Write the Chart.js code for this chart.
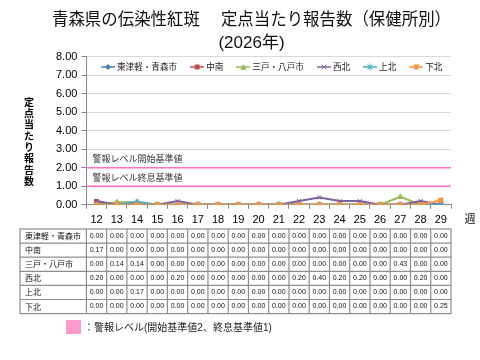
<!DOCTYPE html>
<html>
<head>
<meta charset="utf-8">
<script src="https://cdn.jsdelivr.net/npm/chart.js@4"></script>
<style>
html, body { margin: 0; padding: 0; background: #fff; }
</style>
</head>
<body>
<canvas id="myChart" width="480" height="360"></canvas>
<script>
const weeks = ['12', '13', '14', '15', '16', '17', '18', '19', '20', '21', '22', '23', '24', '25', '26', '27', '28', '29'];

const higashiTsugaru = [0, 0, 0, 0, 0, 0, 0, 0, 0, 0, 0, 0, 0, 0, 0, 0, 0, 0];
const chunan = [0.17, 0, 0, 0, 0, 0, 0, 0, 0, 0, 0, 0, 0, 0, 0, 0, 0, 0];
const sannohe = [0, 0.14, 0.14, 0, 0, 0, 0, 0, 0, 0, 0, 0, 0, 0, 0, 0.43, 0, 0];
const seihoku = [0.20, 0, 0, 0, 0.20, 0, 0, 0, 0, 0, 0.20, 0.40, 0.20, 0.20, 0, 0, 0.20, 0];
const kamikita = [0, 0, 0.17, 0, 0, 0, 0, 0, 0, 0, 0, 0, 0, 0, 0, 0, 0, 0];
const shimokita = [0, 0, 0, 0, 0, 0, 0, 0, 0, 0, 0, 0, 0, 0, 0, 0, 0, 0.25];

const seriesNames = ['東津軽・青森市', '中南', '三戸・八戸市', '西北', '上北', '下北'];
const seriesValues = [higashiTsugaru, chunan, sannohe, seihoku, kamikita, shimokita];
const seriesColors = ['#4A7EBB', '#BE4B48', '#98B954', '#7D60A0', '#46AAC5', '#F79646'];
const seriesMarkers = ['rectRot', 'rect', 'triangle', 'crossRot', 'star', 'rect'];

const alertStart = 2;   // 警報レベル開始基準値
const alertEnd = 1;     // 警報レベル終息基準値
const yMax = 8;

const FONT = "'Liberation Sans', 'Noto Sans CJK JP', sans-serif";
const JFONT = "'Noto Sans CJK JP', sans-serif";
const PINK = '#FF6EC7';

// little line+marker pictures for the legend, like excel draws them
function legendIcon(color, marker) {
  const c = document.createElement('canvas');
  c.width = 14;
  c.height = 8;
  const g = c.getContext('2d');
  g.strokeStyle = color;
  g.fillStyle = color;
  g.lineWidth = 1.5;
  g.beginPath();
  g.moveTo(0, 4);
  g.lineTo(14, 4);
  g.stroke();
  g.lineWidth = 1;
  g.beginPath();
  if (marker === 'rect') {
    g.fillRect(4.5, 1.5, 5, 5);
  } else if (marker === 'rectRot') {
    g.moveTo(7, 1); g.lineTo(10, 4); g.lineTo(7, 7); g.lineTo(4, 4); g.closePath(); g.fill();
  } else if (marker === 'triangle') {
    g.moveTo(7, 1); g.lineTo(10, 7); g.lineTo(4, 7); g.closePath(); g.fill();
  } else if (marker === 'crossRot') {
    g.moveTo(4.5, 1.5); g.lineTo(9.5, 6.5); g.moveTo(9.5, 1.5); g.lineTo(4.5, 6.5); g.stroke();
  } else {
    g.moveTo(4.5, 1.5); g.lineTo(9.5, 6.5); g.moveTo(9.5, 1.5); g.lineTo(4.5, 6.5);
    g.moveTo(7, 0.5); g.lineTo(7, 7.5); g.stroke();
  }
  return c;
}
const legendIcons = seriesColors.map((c, i) => legendIcon(c, seriesMarkers[i]));

const datasets = seriesNames.map((name, i) => ({
  label: name,
  data: seriesValues[i],
  borderColor: seriesColors[i],
  backgroundColor: seriesColors[i],
  borderWidth: 2,
  pointStyle: seriesMarkers[i],
  pointRadius: 3,
  pointBorderWidth: 1,
  fill: false,
  tension: 0,
  order: seriesNames.length - i
}));

const extras = {
  id: 'extras',
  beforeDatasetsDraw(chart) {
    const ctx = chart.ctx;
    const a = chart.chartArea;
    const y = chart.scales.y;
    ctx.save();
    ctx.strokeStyle = PINK;
    ctx.lineWidth = 1.5;
    [alertStart, alertEnd].forEach(v => {
      const py = y.getPixelForValue(v);
      ctx.beginPath();
      ctx.moveTo(a.left, py);
      ctx.lineTo(a.right, py);
      ctx.stroke();
    });
    ctx.fillStyle = '#333';
    ctx.font = '9px ' + JFONT;
    ctx.textBaseline = 'middle';
    ctx.fillText('警報レベル開始基準値', a.left + 6, y.getPixelForValue(alertStart) - 9);
    ctx.fillText('警報レベル終息基準値', a.left + 6, y.getPixelForValue(alertEnd) - 9);
    ctx.restore();
  },
  afterDraw(chart) {
    const ctx = chart.ctx;
    const a = chart.chartArea;
    const x = chart.scales.x;
    ctx.save();

    // legend inside the plot, one row
    ctx.font = '8.6px ' + JFONT;
    ctx.textBaseline = 'middle';
    ctx.textAlign = 'left';
    const gap = 13;
    const widths = seriesNames.map(n => 16 + ctx.measureText(n).width);
    const total = widths.reduce((s, w) => s + w, 0) + gap * (seriesNames.length - 1);
    let lx = (a.left + a.right) / 2 + 3 - total / 2;
    const ly = a.top + 10;
    ctx.fillStyle = '#222';
    seriesNames.forEach((n, i) => {
      ctx.drawImage(legendIcons[i], lx, ly - 4);
      ctx.fillText(n, lx + 16, ly);
      lx += widths[i] + gap;
    });

    // y axis title, upright characters stacked
    ctx.fillStyle = '#000';
    ctx.font = 'bold 10px ' + JFONT;
    ctx.textAlign = 'center';
    const yTitle = '定点当たり報告数';
    for (let k = 0; k < yTitle.length; k++) {
      ctx.fillText(yTitle[k], 29, 102 + k * 11.3);
    }

    // 週
    ctx.font = '11px ' + JFONT;
    ctx.fillText('週', a.right + 19, a.bottom + 14);

    // data table under the chart
    const cw = (a.right - a.left) / weeks.length;
    const top = 229;
    const rh = 14.1;
    const left = 20;
    const right = a.right;
    const bottom = top + rh * seriesNames.length;
    ctx.strokeStyle = '#8E8E8E';
    ctx.lineWidth = 1.2;
    ctx.strokeRect(left, top, right - left, bottom - top);
    ctx.beginPath();
    for (let r = 1; r < seriesNames.length; r++) {
      ctx.moveTo(left, top + r * rh);
      ctx.lineTo(right, top + r * rh);
    }
    for (let c = 0; c < weeks.length; c++) {
      const cx = x.getPixelForValue(c) - cw / 2;
      ctx.moveTo(cx, top);
      ctx.lineTo(cx, bottom);
    }
    ctx.stroke();

    ctx.fillStyle = '#111';
    seriesNames.forEach((name, r) => {
      const cy = top + r * rh + rh / 2;
      ctx.textAlign = 'left';
      ctx.font = '8px ' + JFONT;
      ctx.fillText(name, left + 5, cy);
      ctx.textAlign = 'center';
      ctx.font = '7px ' + FONT;
      seriesValues[r].forEach((v, c) => {
        ctx.fillText(v.toFixed(2), x.getPixelForValue(c), cy);
      });
    });

    // note at the bottom
    ctx.fillStyle = '#FF99CC';
    ctx.fillRect(66, 320, 15, 14);
    ctx.fillStyle = '#222';
    ctx.textAlign = 'left';
    ctx.font = '10px ' + FONT;
    ctx.fillText('：警報レベル(開始基準値' + alertStart + '、終息基準値' + alertEnd + ')', 84, 328);
    ctx.restore();
  }
};

const config = {
  type: 'line',
  data: {
    labels: weeks,
    datasets: datasets
  },
  options: {
    responsive: false,
    animation: false,
    layout: {
      padding: { left: 52, right: 29, top: 0, bottom: 128 }
    },
    plugins: {
      title: {
        display: true,
        text: ['青森県の伝染性紅斑　 定点当たり報告数（保健所別）', '(2026年)'],
        color: '#111',
        font: { family: FONT, size: 17, weight: 'normal', lineHeight: 1.35 },
        padding: { top: 9, bottom: 2 }
      },
      legend: { display: false },
      tooltip: { enabled: false }
    },
    scales: {
      x: {
        offset: true,
        grid: { display: true, drawOnChartArea: false, drawTicks: true, tickLength: 4, offset: true, color: '#868686' },
        border: { color: '#868686' },
        ticks: { color: '#000', padding: 5, font: { family: FONT, size: 11 }, maxRotation: 0, autoSkip: false }
      },
      y: {
        min: 0,
        max: yMax,
        grid: { color: '#D9D9D9', tickLength: 5, tickColor: '#868686' },
        border: { color: '#868686' },
        ticks: {
          stepSize: 1,
          color: '#000',
          padding: 4,
          font: { family: FONT, size: 11 },
          callback: (v) => v.toFixed(2)
        }
      }
    }
  },
  plugins: [extras]
};

const ctx = document.getElementById('myChart').getContext('2d');
const myChart = new Chart(ctx, config);
</script>
</body>
</html>
